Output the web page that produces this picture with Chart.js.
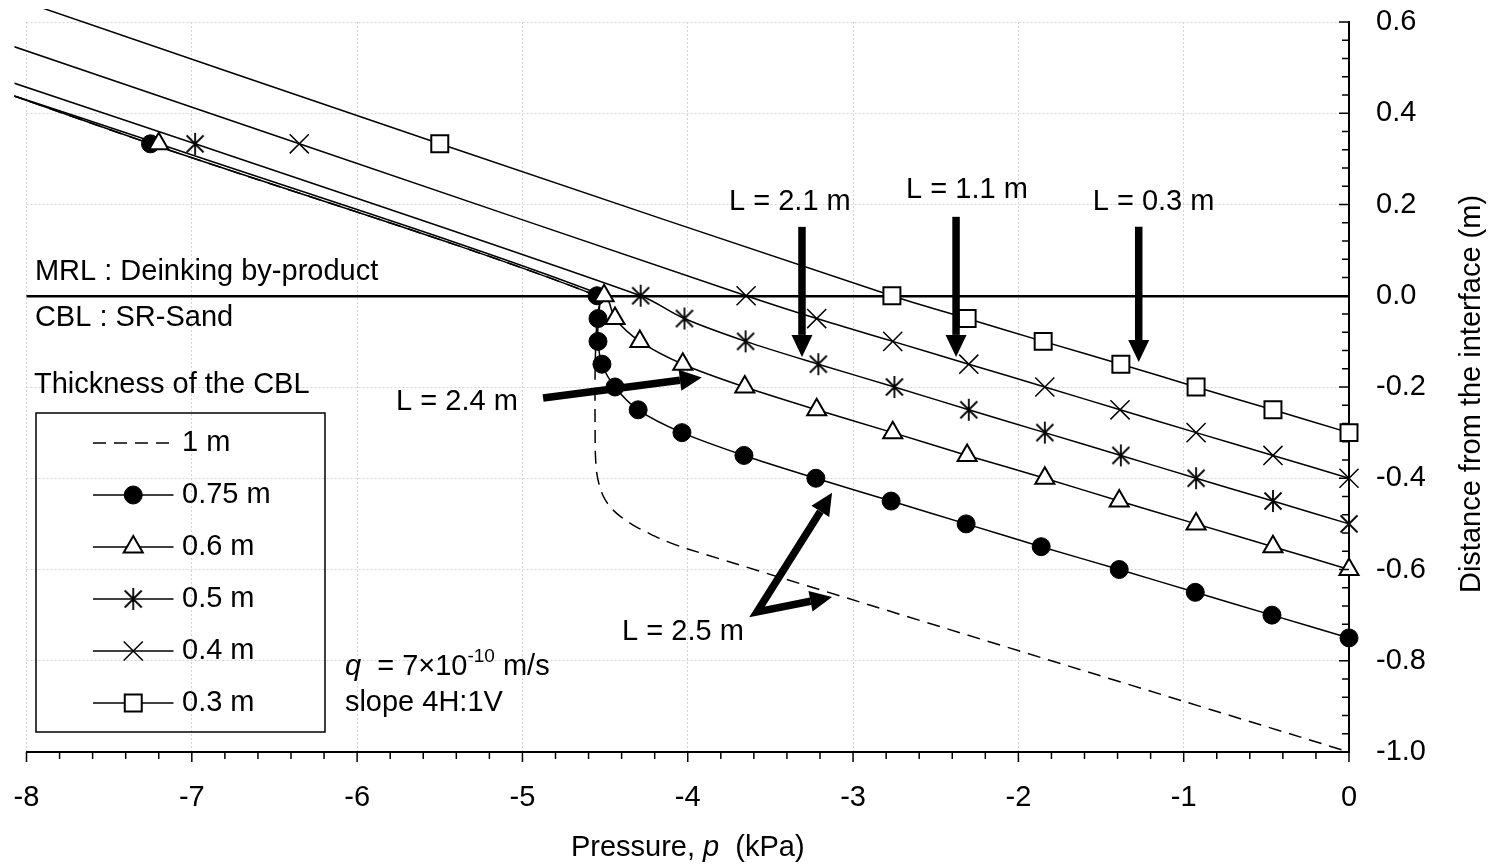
<!DOCTYPE html>
<html>
<head>
<meta charset="utf-8">
<title>Pressure profiles in the CBL</title>
<script src="https://cdn.jsdelivr.net/npm/chart.js@4.4.1/dist/chart.umd.min.js"></script>
<style>
  html, body { margin: 0; padding: 0; background: #fff; }
  #wrap { width: 1494px; height: 866px; }
</style>
</head>
<body>
<div id="wrap"><canvas id="myCanvas"></canvas></div>
<script>
'use strict'

// thickness of the CBL, one curve each (legend order)
var thickness = ["1 m", "0.75 m", "0.6 m", "0.5 m", "0.4 m", "0.3 m"]

// axis ticks
var pressureTicks = [-8, -7, -6, -5, -4, -3, -2, -1, 0]
var distanceTicks = [0.6, 0.4, 0.2, 0.0, -0.2, -0.4, -0.6, -0.8, -1.0]

// where the marked curves come in from the left edge (0.75, 0.6, 0.5, 0.4, 0.3 m)
var leadP = [-8.1, -8.1, -8.1, -8.1, -8.1]
var leadZ = [0.441, 0.441, 0.469, 0.549, 0.655]

// pressure p (kPa) / distance from the interface z (m)
var p100 = [-8.1, -7.25, -4.549, -4.55, -4.56, -4.56, -4.557, -4.55, -4.535, -4.51, -4.475, -4.43, -4.38, -4.32, -4.25, -4.15, -4.0, 0]
var z100 = [0.441, 0.333, 0, -0.05, -0.15, -0.33, -0.36, -0.39, -0.415, -0.44, -0.46, -0.477, -0.491, -0.505, -0.518, -0.535, -0.555, -1.0]

var p075 = [-7.25, -4.549, -4.543, -4.543, -4.519, -4.44, -4.30, -4.035, -3.66, -3.225, -2.77, -2.316, -1.862, -1.39, -0.93, -0.466, 0]
var z075 = [0.333, 0, -0.05, -0.1, -0.15, -0.2, -0.25, -0.3, -0.35, -0.4, -0.45, -0.5, -0.55, -0.6, -0.65, -0.7, -0.75]

var p060 = [-7.2, -4.506, -4.44, -4.29, -4.03, -3.655, -3.22, -2.76, -2.31, -1.84, -1.39, -0.925, -0.46, 0]
var z060 = [0.333, 0, -0.05, -0.1, -0.15, -0.2, -0.25, -0.3, -0.35, -0.4, -0.45, -0.5, -0.55, -0.6]

var p050 = [-6.98, -4.285, -4.02, -3.65, -3.21, -2.75, -2.30, -1.84, -1.38, -0.925, -0.46, 0]
var z050 = [0.333, 0, -0.05, -0.1, -0.15, -0.2, -0.25, -0.3, -0.35, -0.4, -0.45, -0.5]

var p040 = [-6.35, -3.647, -3.22, -2.76, -2.30, -1.84, -1.385, -0.925, -0.46, 0]
var z040 = [0.333, 0, -0.05, -0.1, -0.15, -0.2, -0.25, -0.3, -0.35, -0.4]

var p030 = [-5.5, -2.765, -2.31, -1.85, -1.38, -0.925, -0.46, 0]
var z030 = [0.333, 0, -0.05, -0.1, -0.15, -0.2, -0.25, -0.3]

var FONT = "'Liberation Sans', Arial, sans-serif"
var SIZE = 29
var canvas = document.getElementById("myCanvas")
var ctx = canvas.getContext("2d")

function makeAsterisk(){
    var c = document.createElement("canvas")
    c.width = 24
    c.height = 24
    var g = c.getContext("2d")
    g.strokeStyle = "#000"
    g.lineWidth = 1.8
    g.beginPath()
    g.moveTo(12, 1); g.lineTo(12, 23)
    g.moveTo(3.5, 3.5); g.lineTo(20.5, 20.5)
    g.moveTo(20.5, 3.5); g.lineTo(3.5, 20.5)
    g.stroke()
    return c
}
var asterisk = makeAsterisk()

function toPoints(px, pz){
    var pts = []
    for(let i = 0; i < px.length; i++){
        pts.push({x: px[i], y: pz[i]})
    }
    return pts
}

var markerStyles = [
    {style: false, radius: 0, fill: "#000", width: 0},
    {style: "circle", radius: 9, fill: "#000", width: 1},
    {style: "triangle", radius: 11, fill: "#fff", width: 2},
    {style: asterisk, radius: 10, fill: "#000", width: 1.5},
    {style: "crossRot", radius: 13.5, fill: "#000", width: 1.5},
    {style: "rect", radius: 12, fill: "#fff", width: 2}
]

function buildDatasets(){
    var series = [[p075, z075], [p060, z060], [p050, z050], [p040, z040], [p030, z030]]
    var sets = [{
        label: thickness[0],
        data: toPoints(p100, z100),
        borderColor: "#000",
        borderWidth: 1.5,
        borderDash: [13, 8],
        pointRadius: 0,
        tension: 0.3,
        order: 6
    }]
    for(let i = 0; i < series.length; i++){
        var m = markerStyles[i + 1]
        var pts = [{x: leadP[i], y: leadZ[i]}].concat(toPoints(series[i][0], series[i][1]))
        sets.push({
            label: thickness[i + 1],
            data: pts,
            borderColor: "#000",
            borderWidth: 1.5,
            tension: 0.3,
            pointStyle: m.style,
            pointRadius: (function(r){ return function(c){ return c.dataIndex === 0 ? 0 : r } })(m.radius),
            pointBackgroundColor: m.fill,
            pointBorderColor: "#000",
            pointBorderWidth: m.width,
            order: 5 - i
        })
    }
    return sets
}

// annotation texts and arrows, in data units
var notes = [
    {text: "L = 2.1 m", p: -3.382, z: 0.205, align: "center"},
    {text: "L = 1.1 m", p: -2.311, z: 0.232, align: "center"},
    {text: "L = 0.3 m", p: -1.182, z: 0.205, align: "center"},
    {text: "L = 2.4 m", p: -5.396, z: -0.233, align: "center"},
    {text: "L = 2.5 m", p: -4.029, z: -0.737, align: "center"},
    {text: "MRL : Deinking by-product", p: -7.949, z: 0.052, align: "left"},
    {text: "CBL : SR-Sand", p: -7.949, z: -0.049, align: "left"},
    {text: "Thickness of the CBL", p: -7.955, z: -0.196, align: "left"},
    {text: "slope 4H:1V", p: -6.074, z: -0.893, align: "left"}
]
var arrows = [
    [-3.309, 0.151, -3.309, -0.134],
    [-2.377, 0.173, -2.377, -0.134],
    [-1.272, 0.151, -1.272, -0.145],
    [-4.875, -0.224, -3.915, -0.179]
]
var forkArrow = [-3.581, -0.693, -3.127, -0.432, -3.127, -0.66]

function drawRuns(c, x, y, runs){
    var cx = x
    for(let i = 0; i < runs.length; i++){
        c.font = runs[i].font
        c.fillText(runs[i].t, cx, y + (runs[i].dy || 0))
        cx += c.measureText(runs[i].t).width
    }
}
function runsWidth(c, runs){
    var w = 0
    for(let i = 0; i < runs.length; i++){
        c.font = runs[i].font
        w += c.measureText(runs[i].t).width
    }
    return w
}

function arrowHead(c, bx, by, x2, y2, half){
    var ang = Math.atan2(y2 - by, x2 - bx)
    c.beginPath()
    c.moveTo(x2, y2)
    c.lineTo(bx + half * Math.sin(ang), by - half * Math.cos(ang))
    c.lineTo(bx - half * Math.sin(ang), by + half * Math.cos(ang))
    c.closePath()
    c.fill()
}
function headBase(x1, y1, x2, y2, len){
    var ang = Math.atan2(y2 - y1, x2 - x1)
    return [x2 - len * Math.cos(ang), y2 - len * Math.sin(ang)]
}

var decorations = {
    id: "decorations",
    afterDraw: function(chart){
        var c = chart.ctx
        var xs = chart.scales.x, ys = chart.scales.y
        var area = chart.chartArea
        var f = SIZE + "px " + FONT
        c.save()
        c.strokeStyle = "#000"
        c.fillStyle = "#000"

        // tick marks: x outward, y inward
        c.lineWidth = 1.5
        c.beginPath()
        for(let i = 0; i < pressureTicks.length; i++){
            var px = xs.getPixelForValue(pressureTicks[i])
            c.moveTo(px, area.bottom); c.lineTo(px, area.bottom + 10)
            if(i < pressureTicks.length - 1){
                for(let k = 1; k < 5; k++){
                    var mx = xs.getPixelForValue(pressureTicks[i] + k * (pressureTicks[i + 1] - pressureTicks[i]) / 5)
                    c.moveTo(mx, area.bottom); c.lineTo(mx, area.bottom + 7)
                }
            }
        }
        for(let i = 0; i < distanceTicks.length; i++){
            var py = ys.getPixelForValue(distanceTicks[i])
            c.moveTo(area.right - 10, py); c.lineTo(area.right, py)
            if(i < distanceTicks.length - 1){
                for(let k = 1; k < 5; k++){
                    var my = ys.getPixelForValue(distanceTicks[i] + k * (distanceTicks[i + 1] - distanceTicks[i]) / 5)
                    c.moveTo(area.right - 7, my); c.lineTo(area.right, my)
                }
            }
        }
        c.stroke()

        // arrows
        c.lineWidth = 7.5
        c.lineCap = "butt"
        for(let i = 0; i < arrows.length; i++){
            var a = arrows[i]
            var x1 = xs.getPixelForValue(a[0]), y1 = ys.getPixelForValue(a[1])
            var x2 = xs.getPixelForValue(a[2]), y2 = ys.getPixelForValue(a[3])
            var b = headBase(x1, y1, x2, y2, 22)
            c.beginPath(); c.moveTo(x1, y1); c.lineTo(b[0], b[1]); c.stroke()
            arrowHead(c, b[0], b[1], x2, y2, 10.5)
        }
        var fx = xs.getPixelForValue(forkArrow[0]), fy = ys.getPixelForValue(forkArrow[1])
        var t1x = xs.getPixelForValue(forkArrow[2]), t1y = ys.getPixelForValue(forkArrow[3])
        var t2x = xs.getPixelForValue(forkArrow[4]), t2y = ys.getPixelForValue(forkArrow[5])
        var b1 = headBase(fx, fy, t1x, t1y, 22), b2 = headBase(fx, fy, t2x, t2y, 22)
        c.lineJoin = "miter"
        c.beginPath(); c.moveTo(b1[0], b1[1]); c.lineTo(fx, fy); c.lineTo(b2[0], b2[1]); c.stroke()
        arrowHead(c, b1[0], b1[1], t1x, t1y, 10.5)
        arrowHead(c, b2[0], b2[1], t2x, t2y, 10.5)

        // texts
        c.textBaseline = "middle"
        c.font = f
        for(let i = 0; i < notes.length; i++){
            c.textAlign = notes[i].align
            c.fillText(notes[i].text, xs.getPixelForValue(notes[i].p), ys.getPixelForValue(notes[i].z))
        }
        c.textAlign = "left"
        drawRuns(c, xs.getPixelForValue(-6.074), ys.getPixelForValue(-0.814), [
            {t: "q", font: "italic " + f},
            {t: "  = 7\u00d710", font: f},
            {t: "-10", font: "19px " + FONT, dy: -10},
            {t: " m/s", font: f}
        ])

        // axis titles
        var xr = [
            {t: "Pressure, ", font: f},
            {t: "p", font: "italic " + f},
            {t: "  (kPa)", font: f}
        ]
        drawRuns(c, (area.left + area.right) / 2 - runsWidth(c, xr) / 2, 848, xr)
        c.save()
        c.translate(1472, 394)
        c.rotate(-Math.PI / 2)
        c.textAlign = "center"
        c.font = f
        c.fillText("Distance from the interface (m)", 0, 0)
        c.restore()

        // legend
        c.lineWidth = 1.5
        c.strokeRect(area.left + 9.5, area.top + 391, 289, 319)
        var sets = chart.data.datasets
        for(let i = 0; i < sets.length; i++){
            var ry = area.top + 421 + i * 52
            var lx1 = area.left + 66.5, lx2 = area.left + 147
            c.lineWidth = 1.5
            c.strokeStyle = "#000"
            c.setLineDash(sets[i].borderDash || [])
            c.beginPath(); c.moveTo(lx1, ry); c.lineTo(lx2, ry); c.stroke()
            c.setLineDash([])
            var m = markerStyles[i]
            if(m.style){
                c.fillStyle = m.fill
                c.lineWidth = m.width
                Chart.helpers.drawPoint(c, {pointStyle: m.style, radius: m.radius, rotation: 0, borderWidth: m.width}, (lx1 + lx2) / 2, ry)
            }
            c.fillStyle = "#000"
            c.font = f
            c.textAlign = "left"
            c.fillText(thickness[i], area.left + 155.5, ry)
        }
        c.restore()
    }
}

new Chart(ctx, {
    type: "scatter",
    data: {
        datasets: buildDatasets().map(function(d){
            d.showLine = true
            d.clip = {left: 12, top: 13, right: 20, bottom: 10}
            d.capBezierPoints = false
            return d
        })
    },
    options: {
        responsive: true,
        maintainAspectRatio: false,
        animation: false,
        events: [],
        layout: {padding: {left: 26.5, top: 22, right: 0, bottom: 0}},
        plugins: {legend: {display: false}, tooltip: {enabled: false}},
        scales: {
            x: {
                type: "linear",
                position: "bottom",
                min: -8,
                max: 0,
                afterBuildTicks: function(s){ s.ticks = pressureTicks.map(function(v){ return {value: v} }) },
                afterFit: function(s){
                    s.height = 114
                    s.paddingLeft = 0
                    s.paddingRight = 0
                },
                ticks: {
                    color: "#000",
                    padding: 29,
                    font: {family: FONT, size: SIZE},
                    maxRotation: 0,
                    autoSkip: false,
                    callback: function(v){ return String(v) }
                },
                grid: {color: "#d4d4d4", lineWidth: 1, drawTicks: false},
                border: {display: true, color: "#000", width: 2, dash: [2, 2]}
            },
            y: {
                type: "linear",
                position: "right",
                min: -1,
                max: 0.6,
                afterBuildTicks: function(s){ s.ticks = distanceTicks.map(function(v){ return {value: v} }) },
                afterFit: function(s){
                    s.width = 145
                    s.paddingTop = 0
                    s.paddingBottom = 0
                },
                ticks: {
                    color: "#000",
                    padding: 27,
                    font: {family: FONT, size: SIZE},
                    autoSkip: false,
                    callback: function(v){ return Number(v).toFixed(1) }
                },
                grid: {
                    drawTicks: false,
                    color: function(c){ return c.tick && c.tick.value === 0 ? "#000" : "#d4d4d4" },
                    lineWidth: function(c){ return c.tick && c.tick.value === 0 ? 2.5 : 1 }
                },
                border: {
                    display: true,
                    color: "#000",
                    width: 2,
                    dash: function(c){ return c.tick && c.tick.value === 0 ? [] : [2, 2] }
                }
            }
        }
    },
    plugins: [decorations]
})
</script>
</body>
</html>
